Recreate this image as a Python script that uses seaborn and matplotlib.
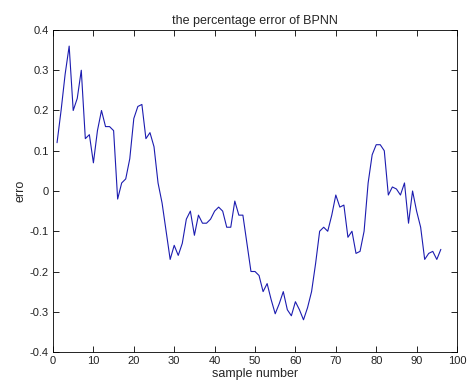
import matplotlib
matplotlib.use("Agg")
import matplotlib.pyplot as plt
import seaborn as sns
import pandas as pd

sample = list(range(1, 97))
erro = [0.12, 0.20, 0.29, 0.36, 0.20, 0.23, 0.30, 0.13, 0.14, 0.07,
        0.15, 0.20, 0.16, 0.16, 0.15, -0.02, 0.02, 0.03, 0.08, 0.18,
        0.21, 0.215, 0.13, 0.145, 0.11, 0.02, -0.03, -0.10, -0.17, -0.135,
        -0.16, -0.13, -0.07, -0.05, -0.11, -0.06, -0.08, -0.08, -0.07, -0.05,
        -0.04, -0.05, -0.09, -0.09, -0.025, -0.06, -0.06, -0.13, -0.20, -0.20,
        -0.21, -0.25, -0.23, -0.27, -0.305, -0.28, -0.25, -0.295, -0.31, -0.275,
        -0.295, -0.32, -0.29, -0.25, -0.18, -0.10, -0.09, -0.10, -0.06, -0.01,
        -0.04, -0.035, -0.115, -0.10, -0.155, -0.15, -0.10, 0.02, 0.09, 0.115,
        0.115, 0.10, -0.01, 0.01, 0.005, -0.01, 0.02, -0.08, 0.00, -0.05,
        -0.09, -0.17, -0.155, -0.15, -0.17, -0.145]

df = pd.DataFrame({"sample": sample, "erro": erro})

sns.set_theme(style="white")
plt.rcParams['font.family'] = ['Liberation Sans', 'DejaVu Sans']
plt.rcParams['xtick.direction'] = 'in'
plt.rcParams['ytick.direction'] = 'in'

fig = plt.figure(figsize=(4.67, 3.89), dpi=100)
ax = fig.add_axes([0.1135, 0.0951, 0.8651, 0.8278])
sns.lineplot(data=df, x="sample", y="erro", ax=ax, color="#1c1cb0", linewidth=0.8)

ax.set_xlim(0, 100)
ax.set_ylim(-0.4, 0.4)
ax.set_xticks(range(0, 101, 10))
ax.set_yticks([-0.4, -0.3, -0.2, -0.1, 0, 0.1, 0.2, 0.3, 0.4])
ax.set_yticklabels(["-0.4", "-0.3", "-0.2", "-0.1", "0", "0.1", "0.2", "0.3", "0.4"])
ax.tick_params(axis='both', labelsize=8, length=4, width=0.6, color='black',
               labelcolor='#222222',
               bottom=True, left=True, top=True, right=True, pad=3)
for s in ax.spines.values():
    s.set_color('black')
    s.set_linewidth(0.6)
ax.set_xlabel("sample number", fontsize=9, labelpad=1)
ax.set_ylabel("erro", fontsize=9, labelpad=2)
ax.set_title("the percentage error of BPNN", fontsize=9, pad=4)

fig.savefig("out.png", dpi=100, facecolor="white")
